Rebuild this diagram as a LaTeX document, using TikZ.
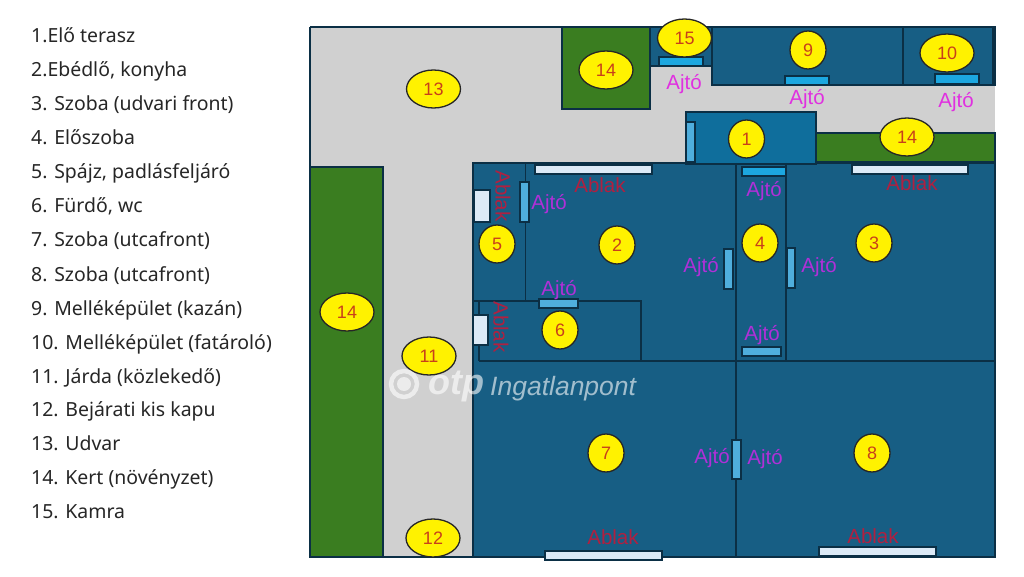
\documentclass[tikz,border=0pt]{standalone}
\usepackage{fontspec}
\setmainfont{Liberation Sans}
\newfontfamily\legendfont{Noto Sans}
\definecolor{roomblue}{HTML}{175E84}
\definecolor{terrace}{HTML}{0F6E9C}
\definecolor{wall}{HTML}{0B2F45}
\definecolor{yardgray}{HTML}{D0D0D0}
\definecolor{garden}{HTML}{3A7D20}
\definecolor{spot}{HTML}{FFF200}
\definecolor{numred}{HTML}{C8401A}
\definecolor{winfill}{HTML}{DCEAF7}
\definecolor{doorA}{HTML}{1CA7E0}
\definecolor{doorB}{HTML}{4FAEDD}
\definecolor{ajtoM}{HTML}{E030E0}
\definecolor{ajtoP}{HTML}{B030D8}
\definecolor{ablakred}{HTML}{B02040}
\tikzset{
  x=1pt,y=-1pt,
  area/.style={draw=wall,line width=1.4pt},
  wallline/.style={draw=wall,line width=1.2pt},
  win/.style={draw=wall,line width=1.4pt,fill=winfill},
  doora/.style={draw=wall,line width=1.2pt,fill=doorA},
  doorb/.style={draw=wall,line width=1.2pt,fill=doorB},
  spotw/.style={ellipse,draw=black!85,line width=1.3pt,fill=spot,minimum width=54pt,minimum height=38pt,inner sep=0pt,text=numred,font=\fontsize{18}{18}\selectfont},
  spotn/.style={spotw,minimum width=36pt},
  ajtom/.style={text=ajtoM,font=\fontsize{20.5}{20.5}\selectfont,inner sep=0pt},
  ajtop/.style={text=ajtoP,font=\fontsize{20.5}{20.5}\selectfont,inner sep=0pt},
  ablak/.style={text=ablakred,font=\fontsize{20.5}{20.5}\selectfont,inner sep=0pt},
  legend/.style={anchor=base west,inner sep=0pt,text=black!85,font=\legendfont\fontsize{19.45}{20}\selectfont},
}
\usetikzlibrary{shapes.geometric}
\begin{document}
\begin{tikzpicture}
\useasboundingbox (0,0) rectangle (1024,577);
% yard
\fill[yardgray] (310,27) rectangle (995,557);
% gardens
\draw[area,fill=garden] (562,27) rectangle (650,109);
\draw[area,fill=garden] (310,167) rectangle (383,557);
\draw[area,fill=garden] (816,133) rectangle (995,162);
% outbuildings
\draw[area,fill=roomblue] (650,27) rectangle (712,66);
\draw[area,fill=roomblue] (712,27) rectangle (903,85);
\draw[area,fill=roomblue] (903,27) rectangle (995,85);
\fill[wall] (992,27) rectangle (996,85);
% main building
\draw[area,fill=roomblue,line width=1.6pt] (473,163) rectangle (995,557);
% outer frame
\draw[area] (310,27) -- (995,27);
\draw[area] (310,27) -- (310,557) -- (995,557);
% terrace
\draw[area,fill=terrace] (686,112) rectangle (816,164);
% interior walls
\draw[wallline] (736,163) -- (736,557);
\draw[wallline] (786,163) -- (786,361);
\draw[wallline] (479,361) -- (995,361);
\draw[wallline,line width=.8pt] (525,163) -- (525,301);
\draw[wallline] (473,301) -- (641,301) -- (641,361);
\draw[wallline] (479,301) -- (479,361);
% windows
\draw[win] (535,165) rectangle (652,174);
\draw[win] (852,165) rectangle (968,174);
\draw[win] (474,190) rectangle (490,222);
\draw[win] (473,315) rectangle (488,345);
\draw[win] (545,551) rectangle (662,560);
\draw[win] (819,547) rectangle (936,556);
% doors
\draw[doora] (659,57) rectangle (703,66);
\draw[doora] (785,76) rectangle (829,85);
\draw[doora] (935,74) rectangle (979,84);
\draw[doora] (742,167) rectangle (786,176);
\draw[doorb] (686,122) rectangle (695,162);
\draw[doorb] (520,182) rectangle (529,222);
\draw[doorb] (539,299) rectangle (578,308);
\draw[doorb] (724,249) rectangle (733,289);
\draw[doorb] (787,248) rectangle (795,288);
\draw[doorb] (742,347) rectangle (781,356);
\draw[doorb] (732,440) rectangle (741,479);
% door labels
\node[ajtom] (a15) at (684,84) {Ajtó};
\node[ajtom] (a9) at (807,99) {Ajtó};
\node[ajtom] (a10) at (956,102) {Ajtó};
\node[ajtop] (a4t) at (764,191) {Ajtó};
\node[ajtop] (a5) at (549,204) {Ajtó};
\node[ajtop] (a2) at (701,267) {Ajtó};
\node[ajtop] (a3) at (819,267) {Ajtó};
\node[ajtop] (a6) at (559,290) {Ajtó};
\node[ajtop] (a4b) at (762,335) {Ajtó};
\node[ajtop] (a7) at (712,458) {Ajtó};
\node[ajtop] (a8) at (765,459) {Ajtó};
% window labels
\node[ablak] (w2) at (600,185) {Ablak};
\node[ablak] (w3) at (912,183) {Ablak};
\node[ablak] (w7) at (613,537) {Ablak};
\node[ablak] (w8) at (873,536) {Ablak};
\node[ablak,rotate=-90] (w5) at (503,196) {Ablak};
\node[ablak,rotate=-90] (w6) at (501,327) {Ablak};
% numbered spots
\node[spotn] (n1) at (746.5,139) {1};
\node[spotn] (n2) at (617,245) {2};
\node[spotn] (n3) at (874,243) {3};
\node[spotn] (n4) at (760,243) {4};
\node[spotn] (n5) at (497,244) {5};
\node[spotn] (n6) at (560,330) {6};
\node[spotn] (n7) at (606,453) {7};
\node[spotn] (n8) at (872,453) {8};
\node[spotn] (n9) at (808,50) {9};
\node[spotw] (n10) at (947,53) {10};
\node[spotw] (n11) at (429,356) {11};
\node[spotw] (n12) at (433,538) {12};
\node[spotw] (n13) at (433.5,89) {13};
\node[spotw] (n14a) at (606,70) {14};
\node[spotw] (n14b) at (907,137) {14};
\node[spotw] (n14c) at (347,312) {14};
\node[spotw] (n15) at (684.5,38) {15};
% watermark
\draw[white,opacity=.6,line width=4.5pt] (404,384) circle (13);
\fill[white,opacity=.6] (404,384) circle (7);
\node[white,opacity=.6,inner sep=0pt,font=\bfseries\itshape\fontsize{36}{36}\selectfont] (wm1) at (456,386) {otp};
\node[white,opacity=.6,inner sep=0pt,anchor=base west,font=\itshape\fontsize{26.5}{27}\selectfont] (wm2) at (490,395) {Ingatlanpont};
% legend
\node[legend] (l1) at (31,43) {1.Elő terasz};
\node[legend] (l2) at (31,77) {2.Ebédlő, konyha};
\node[legend] (l3) at (31,111) {3. Szoba (udvari front)};
\node[legend] (l4) at (31,145) {4. Előszoba};
\node[legend] (l5) at (31,179) {5. Spájz, padlásfeljáró};
\node[legend] (l6) at (31,213) {6. Fürdő, wc};
\node[legend] (l7) at (31,247) {7. Szoba (utcafront)};
\node[legend] (l8) at (31,281) {8. Szoba (utcafront)};
\node[legend] (l9) at (31,315) {9. Melléképület (kazán)};
\node[legend] (l10) at (31,349) {10. Melléképület (fatároló)};
\node[legend] (l11) at (31,383) {11. Járda (közlekedő)};
\node[legend] (l12) at (31,416) {12. Bejárati kis kapu};
\node[legend] (l13) at (31,450) {13. Udvar};
\node[legend] (l14) at (31,484) {14. Kert (növényzet)};
\node[legend] (l15) at (31,518) {15. Kamra};
\end{tikzpicture}
\end{document}
